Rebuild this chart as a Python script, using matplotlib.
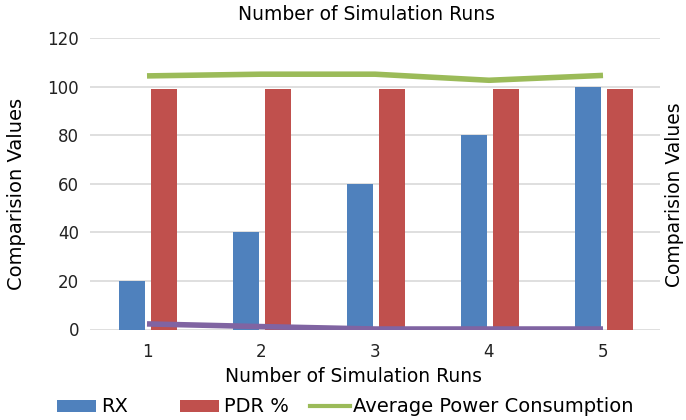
import matplotlib
matplotlib.use("Agg")
import matplotlib.pyplot as plt
from matplotlib.patches import Rectangle
from matplotlib.lines import Line2D
import numpy as np

runs = [1, 2, 3, 4, 5]
rx = [20, 40, 60, 80, 100]
pdr = [99, 99, 99, 99, 99]
avg_power = [104.4, 105.1, 105.1, 102.6, 104.6]
fourth = [2.3, 1.2, 0.2, 0.2, 0.2]

plt.rcParams['font.family'] = ['DejaVu Sans']

W, H = 686, 420
fig = plt.figure(figsize=(W / 100, H / 100), dpi=100)
ax = fig.add_axes([90 / W, 1 - 329.5 / H, 570 / W, 291.5 / H])

x = np.arange(len(runs))
w = 0.23
ax.bar(x - 0.13, rx, w, color='#4F81BD', zorder=2)
ax.bar(x + 0.15, pdr, w, color='#C0504D', zorder=2)
ax.plot(x, avg_power, color='#9BBB59', lw=4, zorder=3, solid_capstyle='butt')
ax.plot(x, fourth, color='#8064A2', lw=4, zorder=3, solid_capstyle='butt')

ax.set_xlim(-0.5, len(runs) - 0.5)
ax.set_ylim(0, 120)
ax.set_yticks(range(0, 121, 20))
ax.set_xticks(x)
ax.set_xticklabels([str(r) for r in runs])
ax.grid(axis='y', color='#D9D9D9', lw=1.2, zorder=0)
ax.set_axisbelow(True)
for s in ax.spines.values():
    s.set_visible(False)
ax.tick_params(length=0, labelsize=12, colors='#222222')
ax.tick_params(axis='y', pad=8)
ax.tick_params(axis='x', pad=10)

fig.text(367 / W, 1 - 15 / H, 'Number of Simulation Runs', ha='center', va='center', fontsize=13.5)
fig.text(353 / W, 1 - 377 / H, 'Number of Simulation Runs', ha='center', va='center', fontsize=13.5)
fig.text(17 / W, 1 - 194 / H, 'Comparision Values', ha='center', va='center', rotation=90, fontsize=14)
fig.text(675 / W, 1 - 195 / H, 'Comparision Values', ha='center', va='center', rotation=90, fontsize=13.5)

# legend (manual placement)
ly = 406
fig.patches.append(Rectangle((57 / W, 1 - 412 / H), 39 / W, 12 / H, transform=fig.transFigure,
                             facecolor='#4F81BD', edgecolor='none'))
fig.text(101 / W, 1 - ly / H, 'RX', ha='left', va='center', fontsize=14)
fig.patches.append(Rectangle((180 / W, 1 - 412 / H), 39 / W, 12 / H, transform=fig.transFigure,
                             facecolor='#C0504D', edgecolor='none'))
fig.text(224 / W, 1 - ly / H, 'PDR %', ha='left', va='center', fontsize=14)
fig.lines.append(Line2D([310 / W, 350 / W], [1 - ly / H, 1 - ly / H], transform=fig.transFigure,
                        color='#9BBB59', lw=3))
fig.text(353 / W, 1 - ly / H, 'Average Power Consumption', ha='left', va='center', fontsize=14)

fig.savefig('out.png', dpi=100)
